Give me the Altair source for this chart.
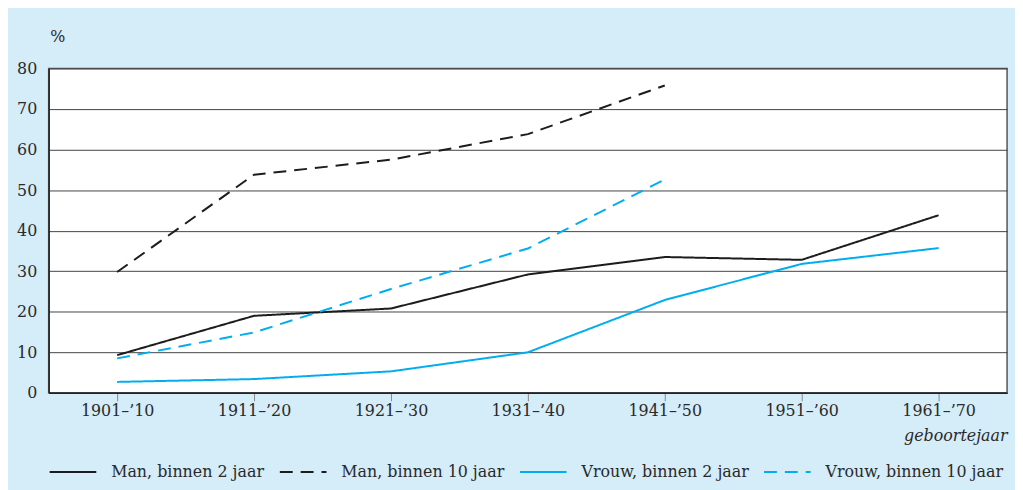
import altair as alt
import pandas as pd

periods = ["1901–’10", "1911–’20", "1921–’30", "1931–’40", "1941–’50", "1951–’60", "1961–’70"]
series_names = ["Man, binnen 2 jaar", "Man, binnen 10 jaar", "Vrouw, binnen 2 jaar", "Vrouw, binnen 10 jaar"]

man_2 = [9.3, 19.0, 20.8, 29.2, 33.5, 32.8, 43.8]
man_10 = [29.8, 53.8, 57.5, 63.8, 75.8]
vrouw_2 = [2.7, 3.4, 5.3, 10.0, 22.9, 31.8, 35.7]
vrouw_10 = [8.5, 14.9, 25.6, 35.6, 52.6]

rows = []
for name, vals in zip(series_names, [man_2, man_10, vrouw_2, vrouw_10]):
    for p, v in zip(periods, vals):
        rows.append({"periode": p, "pct": v, "reeks": name})
df = pd.DataFrame(rows)

FONT = "DejaVu Serif"
FS = 16
TXT = "#2a2a2a"
BLACK = "#1c1c1c"
BLUE = "#00aeef"

legend_kw = dict(title=None, orient="none", legendX=0, legendY=382,
                 direction="horizontal", columns=4,
                 symbolType="stroke", symbolSize=2209, symbolStrokeWidth=2,
                 labelFont=FONT, labelFontSize=FS, labelColor=TXT,
                 labelOffset=14, columnPadding=11, labelLimit=400, padding=0)

chart = alt.Chart(df).mark_line(strokeWidth=2).encode(
    x=alt.X("periode:N", sort=periods,
            scale=alt.Scale(type="point", padding=0.5),
            axis=alt.Axis(title="geboortejaar", titleFontStyle="italic", titleFontWeight="normal",
                          titleFont=FONT, titleFontSize=FS, titleColor=TXT,
                          titleAnchor="end", titleAlign="right", titleX=966, titleY=48,
                          titleBaseline="alphabetic",
                          labelAngle=0, labelFont=FONT, labelFontSize=FS, labelColor=TXT,
                          labelPadding=2, tickSize=8, tickColor="#888888",
                          domainColor="#222222", domainWidth=1.5, grid=False)),
    y=alt.Y("pct:Q", scale=alt.Scale(domain=[0, 80], nice=False),
            axis=alt.Axis(title="%", titleAngle=0, titleAlign="left", titleX=1, titleY=-27,
                          titleBaseline="alphabetic", titleFont=FONT, titleFontSize=FS,
                          titleFontWeight="normal", titleColor=TXT,
                          values=list(range(0, 81, 10)), labelFont=FONT, labelFontSize=FS,
                          labelColor=TXT, labelPadding=12, ticks=False,
                          domainColor="#222222", domainWidth=1.5,
                          grid=True, gridColor="#444444", gridWidth=1)),
    color=alt.Color("reeks:N", sort=series_names,
                    scale=alt.Scale(domain=series_names, range=[BLACK, BLACK, BLUE, BLUE]),
                    legend=alt.Legend(**legend_kw)),
    strokeDash=alt.StrokeDash("reeks:N", sort=series_names,
                              scale=alt.Scale(domain=series_names,
                                              range=[[1, 0], [13, 8], [1, 0], [13, 8]]),
                              legend=alt.Legend(**legend_kw)),
    order=alt.Order("periode:N"),
).properties(
    width=966, height=327,
    background="#d5ecf9",
    padding={"left": 41, "top": 59, "right": 8, "bottom": 96},
    autosize=alt.AutoSizeParams(type="none"),
).configure_view(
    fill="white", stroke="#555555", strokeWidth=1.5
)

chart.save("out.html", embed_options={"renderer": "svg", "actions": False})
